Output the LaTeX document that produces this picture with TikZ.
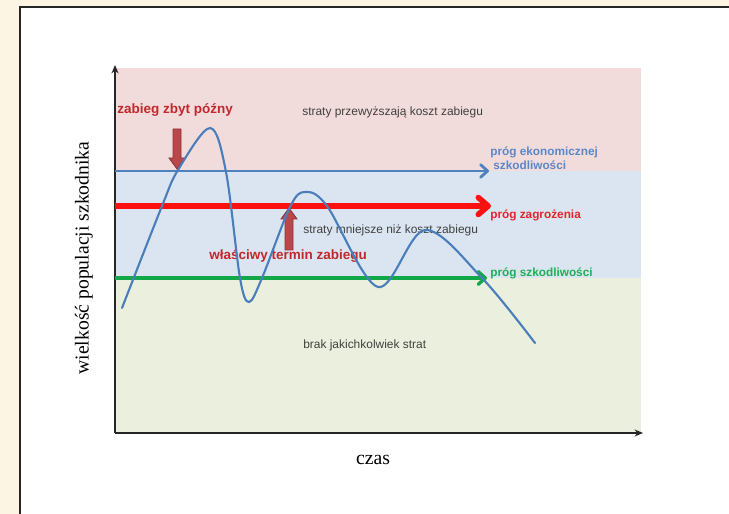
\documentclass[tikz,border=0pt]{standalone}
\usepackage{fontspec}
\setmainfont{Liberation Serif}
\setsansfont{Liberation Sans}
\usetikzlibrary{arrows.meta}
\definecolor{cream}{HTML}{FDF5E3}
\definecolor{zonePink}{HTML}{F2DCDB}
\definecolor{zoneBlue}{HTML}{DBE5F1}
\definecolor{zoneGreen}{HTML}{EAF0DD}
\definecolor{lineBlue}{HTML}{4F81BD}
\definecolor{lineRed}{HTML}{FF1010}
\definecolor{lineGreen}{HTML}{12A84A}
\definecolor{labelBlue}{HTML}{5B87C9}
\definecolor{labelRed}{HTML}{E5232B}
\definecolor{labelGreen}{HTML}{1FAF55}
\definecolor{darkRed}{HTML}{C0282D}
\definecolor{blockRed}{HTML}{B8484A}
\definecolor{curveBlue}{HTML}{4A7EBB}

\begin{document}
\begin{tikzpicture}[x=0.25mm,y=-0.25mm,
    axis/.style={draw=black!85,line width=1.2pt,-{Stealth[length=6pt,width=5pt]}},
    lbl/.style={font=\sffamily\fontsize{8.5}{10}\selectfont,text=black!75,inner sep=0pt,anchor=west},
    note/.style={font=\sffamily\bfseries\fontsize{9.6}{11}\selectfont,text=darkRed,inner sep=0pt,anchor=west},
    prog/.style={font=\sffamily\bfseries\fontsize{8.4}{10}\selectfont,inner sep=0pt,anchor=west},
    blockarrow/.style={fill=blockRed,draw=blockRed!75!black,line width=0.6pt}]
    \useasboundingbox (0,0) rectangle (729,514);
    % page and frame
    \fill[cream] (0,0) rectangle (729,514);
    \filldraw[fill=white,draw=black!85,line width=1.2pt] (20,7) rectangle (745,530);
    % zones
    \fill[zonePink] (115,68) rectangle (641,171);
    \fill[zoneBlue] (115,171) rectangle (641,278);
    \fill[zoneGreen] (115,278) rectangle (641,433);
    % axes
    \coordinate (O) at (115,433);
    \coordinate (ytop) at (115,65);
    \coordinate (xend) at (643,433);
    \draw[axis] (O) -- (ytop);
    \draw[axis] (O) -- (xend);
    % thresholds
    \coordinate (ekonA) at (115,171);
    \coordinate (ekonB) at (489,171);
    \coordinate (zagrA) at (115,206);
    \coordinate (zagrB) at (491,206);
    \coordinate (szkA) at (115,278);
    \coordinate (szkB) at (487,278);
    \draw[lineBlue,line width=2pt,-{Straight Barb[length=5pt,width=9pt,round]}] (ekonA) -- (ekonB);
    \draw[lineRed,line width=4pt,-{Straight Barb[length=7pt,width=12pt,round]}] (zagrA) -- (zagrB);
    \draw[lineGreen,line width=2.4pt,-{Straight Barb[length=5pt,width=9pt,round]}] (szkA) -- (szkB);
    % labels
    \node[note] (late) at (117,110) {zabieg zbyt późny};
    \node[lbl] (above) at (302,112) {straty przewyższają koszt zabiegu};
    \node[lbl] (below) at (303,230) {straty mniejsze niż koszt zabiegu};
    \node[note] (proper) at (209,256) {właściwy termin zabiegu};
    \node[lbl] (none) at (303,345) {brak jakichkolwiek strat};
    \node[prog,text=labelBlue] (ekon1) at (490,152) {próg ekonomicznej};
    \node[prog,text=labelBlue] (ekon2) at (493,165) {szkodliwości};
    \node[prog,text=labelRed] (zagr) at (490,215) {próg zagrożenia};
    \node[prog,text=labelGreen] (szk) at (490,273) {próg szkodliwości};
    \node[font=\fontsize{14}{16}\selectfont,rotate=90] (ylab) at (84,258) {wielkość populacji szkodnika};
    \node[font=\fontsize{14}{16}\selectfont] (xlab) at (373,460) {czas};
    % block arrows
    \filldraw[blockarrow] (173,129) -- (181,129) -- (181,158) -- (185,158) -- (177,169)
        -- (169,158) -- (173,158) -- cycle;
    \filldraw[blockarrow] (285,250) -- (293,250) -- (293,219) -- (297,219) -- (289,208)
        -- (281,219) -- (285,219) -- cycle;
    % population curve
    \draw[curveBlue,line width=1.5pt,line cap=round] plot[smooth,tension=0.55] coordinates {
        (122,308) (162,206) (178,170) (210,128) (226,172) (240,278) (249,302)
        (262,278) (290,207) (305,192) (327,206) (378,287) (425,230) (482,278) (535,343)};
\end{tikzpicture}
\end{document}
